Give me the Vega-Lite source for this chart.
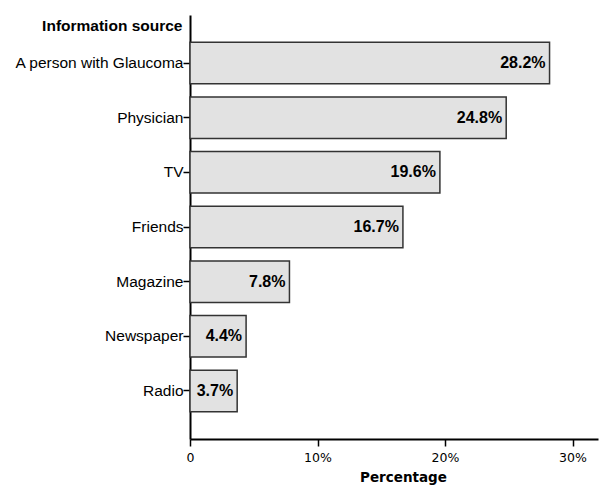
{
  "$schema": "https://vega.github.io/schema/vega-lite/v6.json",
  "autosize": "none",
  "width": 408,
  "height": 424,
  "padding": {"left": 190, "top": 15, "right": 1, "bottom": 46},
  "background": "white",
  "config": {
    "view": {"stroke": null},
    "font": "Liberation Sans"
  },
  "data": {
    "values": [
      {"source": "A person with Glaucoma", "pct": 28.2},
      {"source": "Physician", "pct": 24.8},
      {"source": "TV", "pct": 19.6},
      {"source": "Friends", "pct": 16.7},
      {"source": "Magazine", "pct": 7.8},
      {"source": "Newspaper", "pct": 4.4},
      {"source": "Radio", "pct": 3.7}
    ]
  },
  "transform": [
    {"calculate": "format(datum.pct, '.1f') + '%'", "as": "label"}
  ],
  "encoding": {
    "y": {
      "field": "source",
      "type": "nominal",
      "sort": null,
      "scale": {"paddingInner": 0.24, "paddingOuter": 0.5},
      "axis": {
        "title": "Information source",
        "titleAngle": 0,
        "titleAlign": "right",
        "titleBaseline": "middle",
        "titleX": -8,
        "titleY": 10,
        "titleFont": "Liberation Sans",
        "titleFontSize": 15.5,
        "titleFontWeight": "bold",
        "titleColor": "black",
        "labelFont": "Liberation Sans",
        "labelFontSize": 15.5,
        "labelColor": "black",
        "labelPadding": 0,
        "tickSize": 7,
        "tickColor": "black",
        "tickWidth": 1.5,
        "domainColor": "black",
        "domainWidth": 2
      }
    },
    "x": {
      "field": "pct",
      "type": "quantitative",
      "scale": {"domain": [0, 32], "nice": false},
      "axis": {
        "title": "Percentage",
        "values": [0, 10, 20, 30],
        "labelExpr": "datum.value == 0 ? '0' : datum.value + '%'",
        "labelFlush": false,
        "labelFont": "DejaVu Sans",
        "labelFontSize": 12.5,
        "labelColor": "black",
        "labelPadding": 5,
        "grid": false,
        "tickSize": 7,
        "tickColor": "black",
        "tickWidth": 1.5,
        "domainColor": "black",
        "domainWidth": 2,
        "titleFont": "DejaVu Sans",
        "titleFontSize": 13.5,
        "titleFontWeight": "bold",
        "titleColor": "black",
        "titleAlign": "center",
        "titleBaseline": "bottom",
        "titleX": 213,
        "titleY": 45
      }
    }
  },
  "layer": [
    {
      "mark": {"type": "bar", "fill": "#e2e2e2", "stroke": "#333333", "strokeWidth": 1.5}
    },
    {
      "mark": {
        "type": "text",
        "align": "right",
        "baseline": "middle",
        "dx": -4,
        "font": "Liberation Sans",
        "fontSize": 16,
        "fontWeight": "bold",
        "color": "black"
      },
      "encoding": {
        "text": {"field": "label", "type": "nominal"}
      }
    }
  ]
}
